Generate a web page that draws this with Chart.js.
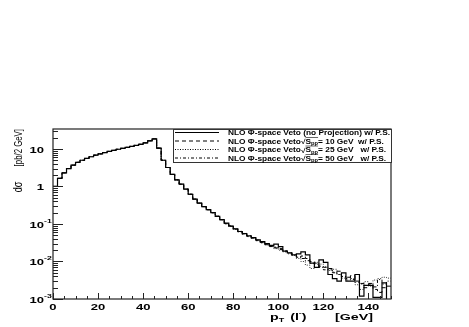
<!DOCTYPE html>
<html>
<head>
<meta charset="utf-8">
<script src="https://cdn.jsdelivr.net/npm/chart.js@4.4.1/dist/chart.umd.min.js"></script>
<style>
html, body { margin: 0; padding: 0; background: #fff; }
#c { display: block; }
</style>
</head>
<body>
<canvas id="c" width="469" height="327"></canvas>
<script>
// histogram bin edges, 2 GeV bins from 0 to 150
const binEdges = [0,2,4,6,8,10,12,14,16,18,20,22,24,26,28,30,32,34,36,38,40,42,44,46,48,
    50,52,54,56,58,60,62,64,66,68,70,72,74,76,78,80,82,84,86,88,90,92,94,96,98,
    100,102,104,106,108,110,112,114,116,118,120,122,124,126,128,130,132,134,136,138,
    140,142,144,146,148,150];

// bins 0..37 : all four curves lie on top of each other
const commonBins = [1.0, 1.65, 2.3, 3.0, 3.7, 4.4, 5.0, 5.6, 6.2, 6.8,
    7.4, 8.0, 8.6, 9.2, 9.8, 10.4, 11.0, 11.7, 12.4, 13.3,
    14.5, 16.5, 18.5, 10.5, 5.0, 3.2, 2.1, 1.5, 1.15, 0.85,
    0.62, 0.46, 0.36, 0.29, 0.24, 0.2, 0.16, 0.13];

// bins 38..74 for each curve
const tailNoProj = [0.105, 0.088, 0.074, 0.063, 0.055, 0.048, 0.043, 0.038, 0.034, 0.03,
    0.027, 0.029, 0.025, 0.019, 0.017, 0.015, 0.016, 0.018, 0.015, 0.009,
    0.007, 0.011, 0.0095, 0.0045, 0.0035, 0.003, 0.005, 0.003, 0.003, 0.0045,
    0.0012, 0.0023, 0.0023, 0.0011, 0.0011, 0.0027, 0.0008];
const tail10 = [0.104, 0.09, 0.075, 0.062, 0.053, 0.047, 0.042, 0.036, 0.032, 0.028,
    0.025, 0.023, 0.021, 0.019, 0.017, 0.015, 0.013, 0.014, 0.012, 0.010,
    0.009, 0.0075, 0.007, 0.0065, 0.005, 0.0055, 0.004, 0.0035, 0.0042, 0.003,
    0.0026, 0.002, 0.0025, 0.0018, 0.0015, 0.002, 0.0022];
const tail25 = [0.1, 0.086, 0.072, 0.064, 0.056, 0.046, 0.041, 0.036, 0.031, 0.028,
    0.025, 0.022, 0.02, 0.018, 0.016, 0.0145, 0.012, 0.01, 0.008, 0.0065,
    0.0095, 0.0085, 0.0072, 0.0058, 0.0062, 0.0045, 0.0036, 0.0032, 0.0035, 0.0024,
    0.0018, 0.0029, 0.0022, 0.0032, 0.0035, 0.0038, 0.0036];
const tail50 = [0.102, 0.087, 0.073, 0.062, 0.054, 0.049, 0.043, 0.037, 0.033, 0.029,
    0.026, 0.024, 0.022, 0.019, 0.017, 0.015, 0.013, 0.012, 0.0105, 0.009,
    0.0085, 0.007, 0.006, 0.006, 0.0052, 0.0045, 0.004, 0.0038, 0.0033, 0.0028,
    0.0025, 0.0023, 0.0026, 0.0021, 0.0033, 0.0025, 0.003];

const seriesNames = [
    'NLO Φ-space Veto (no Projection) w/ P.S.',
    'NLO Φ-space Veto√S_pp= 10 GeV  w/ P.S.',
    'NLO Φ-space Veto√S_pp= 25 GeV   w/ P.S.',
    'NLO Φ-space Veto√S_pp= 50 GeV   w/ P.S.'
];
const seriesDash = [[], [4, 3], [1, 1.5], [3, 2, 1, 2]];

const xTicks = [0, 20, 40, 60, 80, 100, 120, 140];
const yTicks = [0.001, 0.01, 0.1, 1, 10];
const yTickLabels = [['10', '-3'], ['10', '-2'], ['10', '-1'], ['1', ''], ['10', '']];

// step-histogram points: one point per low edge plus the closing edge
function histPoints(vals) {
    return binEdges.map((x, i) => ({ x: x, y: vals[Math.min(i, vals.length - 1)] }));
}

const allSeries = [
    commonBins.concat(tailNoProj),
    commonBins.concat(tail10),
    commonBins.concat(tail25),
    commonBins.concat(tail50)
];

// text drawn wider than tall, like the squeezed original
const SX = 1.45;
function sText(ctx, str, x, y, font, sx, align) {
    ctx.save();
    ctx.font = font;
    const w = ctx.measureText(str).width * sx;
    let x0 = x;
    if (align === 'right') x0 = x - w;
    else if (align === 'center') x0 = x - w / 2;
    ctx.translate(x0, y);
    ctx.scale(sx, 1);
    ctx.textAlign = 'left';
    ctx.fillText(str, 0, 0);
    ctx.restore();
    return w;
}

const rootStyle = {
    id: 'rootStyle',
    afterDraw(chart) {
        const ctx = chart.ctx;
        const a = chart.chartArea;
        const xs = chart.scales.x, ys = chart.scales.y;
        ctx.save();
        ctx.fillStyle = '#000';
        ctx.strokeStyle = '#222';
        ctx.textBaseline = 'alphabetic';

        // frame
        ctx.lineWidth = 1.2;
        ctx.strokeRect(a.left, a.top, a.right - a.left, a.bottom - a.top);

        // y ticks (inside)
        ctx.lineWidth = 1;
        ctx.beginPath();
        for (let d = -3; d <= 1; d++) {
            for (let m = 1; m <= 9; m++) {
                const v = m * Math.pow(10, d);
                if (v > ys.max) break;
                const py = Math.round(ys.getPixelForValue(v)) + 0.5;
                ctx.moveTo(a.left, py);
                ctx.lineTo(a.left + (m === 1 ? 10 : 5), py);
            }
        }
        // x ticks (inside)
        for (let v = 0; v <= 150; v += 5) {
            const px = Math.round(xs.getPixelForValue(v)) + 0.5;
            ctx.moveTo(px, a.bottom);
            ctx.lineTo(px, a.bottom - (v % 20 === 0 ? 6 : 3));
        }
        ctx.stroke();

        // y tick labels
        yTicks.forEach((v, i) => {
            const py = ys.getPixelForValue(v) + 4;
            const lab = yTickLabels[i];
            sText(ctx, lab[0], 44, py, 'bold 9px "Liberation Sans", Arial, sans-serif', SX, 'right');
            if (lab[1]) sText(ctx, lab[1], 44, py - 5, 'bold 6px "Liberation Sans", Arial, sans-serif', SX, 'left');
        });

        // x tick labels
        xTicks.forEach(v => {
            sText(ctx, String(v), xs.getPixelForValue(v), 310, 'bold 9px "Liberation Sans", Arial, sans-serif', SX, 'center');
        });

        // x title: p_T (l^-)   [GeV]
        const tf = 'bold 9.5px "Liberation Sans", Arial, sans-serif';
        const sf = 'bold 6px "Liberation Sans", Arial, sans-serif';
        let cx = 270;
        cx += sText(ctx, 'p', cx, 320, tf, 1.5, 'left');
        cx += sText(ctx, 'T', cx, 322, sf, 1.5, 'left');
        cx += sText(ctx, ' (l', cx + 2, 320, tf, 1.5, 'left') + 2;
        cx += sText(ctx, '-', cx, 315, sf, 1.5, 'left');
        sText(ctx, ')', cx, 320, tf, 1.5, 'left');
        sText(ctx, '[GeV]', 373, 320, tf, 1.5, 'right');

        // y title (rotated)
        ctx.save();
        ctx.translate(22, 0);
        ctx.rotate(-Math.PI / 2);
        sText(ctx, '[pb/2 GeV]', -129, 0, '11.5px "Liberation Sans", Arial, sans-serif', 0.68, 'right');
        sText(ctx, 'dσ', -187, 0, '12px "Liberation Sans", Arial, sans-serif', 0.75, 'center');
        ctx.restore();

        // legend box
        const lx0 = 173, lx1 = a.right, ly0 = a.top, ly1 = 162;
        ctx.fillStyle = '#fff';
        ctx.fillRect(lx0, ly0, lx1 - lx0, ly1 - ly0);
        ctx.strokeStyle = '#333';
        ctx.lineWidth = 1;
        ctx.strokeRect(lx0 + 0.5, ly0 + 0.5, lx1 - lx0, ly1 - ly0);
        ctx.fillStyle = '#000';
        const rowY = [132.5, 141, 149.5, 158];
        const lf = 'bold 6.5px "Liberation Sans", Arial, sans-serif';
        const lsf = 'bold 4.5px "Liberation Sans", Arial, sans-serif';
        ctx.font = lf;
        const lsx = 162 / ctx.measureText(seriesNames[0]).width;
        seriesNames.forEach((name, i) => {
            const ry = rowY[i];
            ctx.save();
            ctx.strokeStyle = '#000';
            ctx.lineWidth = i === 0 ? 1.2 : 1;
            ctx.setLineDash(seriesDash[i]);
            ctx.beginPath();
            ctx.moveTo(175, ry);
            ctx.lineTo(219, ry);
            ctx.stroke();
            ctx.restore();
            const ty = ry + 2.5;
            if (name.indexOf('√S_pp') < 0) {
                sText(ctx, name, 228, ty, lf, lsx, 'left');
            } else {
                const parts = name.split('√S_pp');
                let tx = 228;
                tx += sText(ctx, parts[0], tx, ty, lf, lsx, 'left');
                tx += sText(ctx, '√', tx, ty + 0.5, lf, lsx, 'left');
                const sx0 = tx;
                tx += sText(ctx, 'S', tx, ty, lf, lsx, 'left');
                tx += sText(ctx, 'pp', tx, ty + 1.5, lsf, lsx, 'left');
                ctx.save();
                ctx.lineWidth = 0.6;
                ctx.strokeStyle = '#000';
                ctx.beginPath();
                ctx.moveTo(sx0, ty - 6);
                ctx.lineTo(tx, ty - 6);
                ctx.stroke();
                ctx.restore();
                sText(ctx, parts[1], tx, ty, lf, lsx, 'left');
            }
        });
        ctx.restore();
    }
};

new Chart(document.getElementById('c'), {
    type: 'line',
    data: {
        datasets: allSeries.map((vals, i) => ({
            label: seriesNames[i],
            data: histPoints(vals),
            borderColor: i === 2 ? '#333' : '#000',
            borderWidth: i === 0 ? 1.2 : 1,
            borderDash: seriesDash[i],
            stepped: true,
            pointRadius: 0,
            fill: false
        }))
    },
    options: {
        responsive: false,
        animation: false,
        devicePixelRatio: 1,
        layout: { padding: { left: 53, right: 78, top: 129, bottom: 28 } },
        plugins: {
            legend: { display: false },
            tooltip: { enabled: false },
            title: { display: false }
        },
        scales: {
            x: { type: 'linear', min: 0, max: 150, display: false },
            y: { type: 'logarithmic', min: 0.001, max: 34, display: false }
        }
    },
    plugins: [rootStyle]
});
</script>
</body>
</html>
